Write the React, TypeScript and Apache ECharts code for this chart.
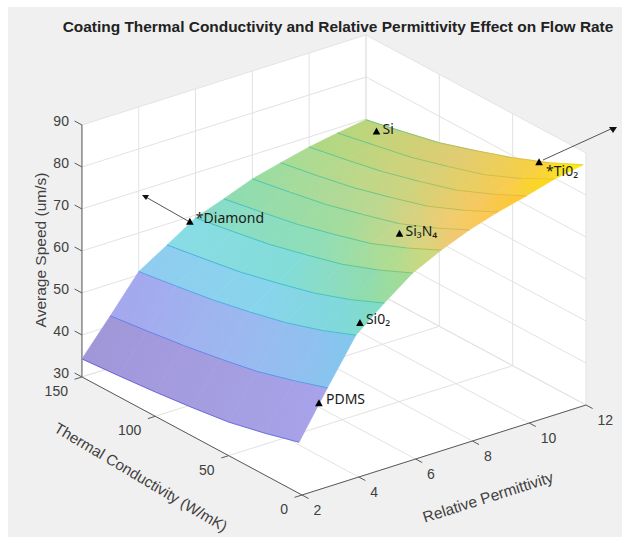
import React, { useEffect, useRef } from "react";
import * as echarts from "echarts";

const TITLE = "Coating Thermal Conductivity and Relative Permittivity Effect on Flow Rate";
const permittivityValues = [2, 3, 4, 5, 6, 7, 8, 9, 10, 11, 12];
const conductivityValues = [150, 125, 100, 75, 50, 25, 2];
// speed[permittivity index][conductivity index]
const speedEps2 = [34.3, 35.0, 35.8, 36.8, 38.0, 40.0, 42.2];
const speedEps3 = [42.4, 43.5, 44.7, 46.2, 47.9, 50.4, 53.0];
const speedEps4 = [50.8, 52.1, 53.5, 55.3, 57.4, 60.2, 63.4];
const speedEps5 = [55.0, 56.4, 57.9, 60.0, 62.3, 65.4, 68.9];
const speedEps6 = [59.3, 60.8, 62.4, 64.6, 67.0, 70.3, 73.9];
const speedEps7 = [61.7, 63.3, 65.0, 67.3, 69.8, 73.4, 77.2];
const speedEps8 = [64.3, 65.9, 67.6, 69.9, 72.4, 76.0, 79.9];
const speedEps9 = [66.0, 67.6, 69.4, 71.8, 74.4, 78.1, 82.0];
const speedEps10 = [67.6, 69.3, 71.1, 73.5, 76.1, 79.8, 83.7];
const speedEps11 = [68.8, 70.6, 72.4, 74.9, 77.6, 81.4, 85.6];
const speedEps12 = [69.8, 71.7, 73.7, 76.5, 79.5, 83.0, 86.8];
const speedGrid = [speedEps2, speedEps3, speedEps4, speedEps5, speedEps6, speedEps7, speedEps8, speedEps9, speedEps10, speedEps11, speedEps12];

const permittivityTicks = [2, 4, 6, 8, 10, 12];
const conductivityTicks = [0, 50, 100, 150];
const speedTicks = [30, 40, 50, 60, 70, 80, 90];

const materialNames = ["*Diamond", "Si", "Si₃N₄", "Si0₂", "PDMS", "*Ti0₂"];
const materialPermittivity = [5.8, 11.7, 7.5, 4.04, 2.7, 12];
const materialConductivity = [150, 137, 40, 0, 2, 32];
const materialSpeed = [58.8, 70.1, 72.9, 66.6, 50, 81.8];

// ---- layout and style ----
const W = 622, H = 537;
const ORIGIN = [302, 495];
const EPS_V = [28.4, -9];
const T_V = [-1.467, -0.787];
const Z_DY = -4.2;
const EPS0 = 2, Z0 = 30;
const AXIS_FONT = "14px 'Liberation Sans', Arial, sans-serif";
const NOTE_FONT = "14px 'Noto Sans', sans-serif";
const INK = "#404040";
const GRID = "#e2e2e2";
// strip colours read at conductivity 150, 75, 25 and 2, one row per permittivity strip
const COLOR_KEY_T = [150, 75, 25, 2];
const STRIP_COLORS: string[][] = [
  ["#a097d8", "#a49de0", "#a6a0e6", "#a8a2ea"],
  ["#a5a8ee", "#9cb8f0", "#90c0ef", "#84c6ee"],
  ["#90cdf0", "#88d4ec", "#80d8dc", "#80dcc8"],
  ["#88dce4", "#84dcd8", "#90dcb0", "#a0dc98"],
  ["#88dcc8", "#90deb8", "#b0dc90", "#cdd880"],
  ["#90dcb0", "#a4dc9c", "#d8d480", "#f2c870"],
  ["#9cdca0", "#bcd890", "#f0cc70", "#fbc955"],
  ["#a8dc94", "#ccd480", "#f6c860", "#fcc838"],
  ["#b0d884", "#d8d078", "#f8cc50", "#fad820"],
  ["#b8d67c", "#e2cc72", "#f8d040", "#f8e818"],
];
const LINE_STOPS: [number, string][] = [
  [34, "#6a5ed8"], [46, "#5f7ee4"], [54, "#4aa4e4"], [62, "#38c0c8"], [70, "#58c490"],
  [76, "#b4bc50"], [82, "#e8b840"], [87, "#f4dc20"],
];
const ARROWS = [
  { from: [188, 221], to: [144, 196], head: [[142, 195], [149, 195], [146, 200]] },
  { from: [543, 160], to: [613, 128], head: [[609, 127], [617, 127], [613, 133]] },
];
const NOTE_OFFSET = [[6, -4], [6, -3], [6, -3], [6, -4], [7, -5], [7, 8]];

const project = (e: number, t: number, z: number): [number, number] => [
  ORIGIN[0] + EPS_V[0] * (e - EPS0) + T_V[0] * t,
  ORIGIN[1] + EPS_V[1] * (e - EPS0) + T_V[1] * t + Z_DY * (z - Z0),
];

const hex = (c: string) => [1, 3, 5].map((i) => parseInt(c.slice(i, i + 2), 16));
const mix = (c1: string, c2: string, f: number) => {
  const a = hex(c1), b = hex(c2);
  return `rgb(${a.map((v, k) => Math.round(v + (b[k] - v) * f)).join(",")})`;
};
const colorAt = (stops: [number, string][], z: number) => {
  if (z <= stops[0][0]) return stops[0][1];
  for (let i = 1; i < stops.length; i++) {
    if (z <= stops[i][0]) return mix(stops[i - 1][1], stops[i][1], (z - stops[i - 1][0]) / (stops[i][0] - stops[i - 1][0]));
  }
  return stops[stops.length - 1][1];
};
const stripColor = (strip: number, t: number) => {
  for (let k = 1; k < COLOR_KEY_T.length; k++) {
    if (t >= COLOR_KEY_T[k]) {
      return mix(STRIP_COLORS[strip][k - 1], STRIP_COLORS[strip][k], (COLOR_KEY_T[k - 1] - t) / (COLOR_KEY_T[k - 1] - COLOR_KEY_T[k]));
    }
  }
  return STRIP_COLORS[strip][COLOR_KEY_T.length - 1];
};

const eMin = permittivityTicks[0], eMax = permittivityTicks[permittivityTicks.length - 1];
const tMin = conductivityTicks[0], tMax = conductivityTicks[conductivityTicks.length - 1];
const zMin = speedTicks[0], zMax = speedTicks[speedTicks.length - 1];

type P3 = [number, number, number];
const grid3d: [P3, P3][] = [];
permittivityTicks.forEach((e) => {
  grid3d.push([[e, tMax, zMin], [e, tMax, zMax]]);
  grid3d.push([[e, tMin, zMin], [e, tMax, zMin]]);
});
conductivityTicks.forEach((t) => {
  grid3d.push([[eMax, t, zMin], [eMax, t, zMax]]);
  grid3d.push([[eMin, t, zMin], [eMax, t, zMin]]);
});
speedTicks.forEach((z) => {
  grid3d.push([[eMin, tMax, z], [eMax, tMax, z]]);
  grid3d.push([[eMax, tMin, z], [eMax, tMax, z]]);
});

const axes3d: [P3, P3][] = [
  [[eMin, tMax, zMin], [eMin, tMax, zMax]],
  [[eMin, tMin, zMin], [eMin, tMax, zMin]],
  [[eMin, tMin, zMin], [eMax, tMin, zMin]],
];
speedTicks.forEach((z) => axes3d.push([[eMin, tMax, z], [eMin, tMax + 5, z]]));
conductivityTicks.forEach((t) => axes3d.push([[eMin, t, zMin], [eMin - 0.26, t, zMin]]));
permittivityTicks.forEach((e) => axes3d.push([[e, tMin, zMin], [e, tMin - 4.5, zMin]]));

const planes: P3[][] = [
  [[eMin, tMax, zMin], [eMax, tMax, zMin], [eMax, tMax, zMax], [eMin, tMax, zMax]],
  [[eMax, tMin, zMin], [eMax, tMax, zMin], [eMax, tMax, zMax], [eMax, tMin, zMax]],
  [[eMin, tMin, zMin], [eMax, tMin, zMin], [eMax, tMax, zMin], [eMin, tMax, zMin]],
];

const cells: [number, number][] = [];
permittivityValues.slice(0, -1).forEach((_, i) => conductivityValues.slice(0, -1).forEach((__, j) => cells.push([i, j])));
const meshSegs: [number, number][] = [];
permittivityValues.forEach((_, i) => conductivityValues.slice(0, -1).forEach((__, j) => meshSegs.push([i, j])));

const idx = (arr: unknown[]) => arr.map((_, i) => [i, i]);

const tickTexts = [
  ...speedTicks.map((z) => ({ p: [eMin, tMax, z] as P3, s: String(z), dx: -13, dy: -4, a: "right" })),
  ...conductivityTicks.map((t) => ({ p: [eMin, t, zMin] as P3, s: String(t), dx: -14, dy: 14, a: "right" })),
  ...permittivityTicks.map((e) => ({ p: [e, tMin, zMin] as P3, s: String(e), dx: 11.5, dy: 15, a: "left" })),
];

const axisTitles = [
  { s: "Average Speed (um/s)", x: 40, y: 250, r: Math.PI / 2, f: 15.5 },
  { s: "Thermal Conductivity (W/mK)", x: 141, y: 477, r: (-30.7 * Math.PI) / 180, f: 15.2 },
  { s: "Relative Permittivity", x: 488, y: 497, r: (17.6 * Math.PI) / 180, f: 15.5 },
];

export default function App() {
  const ref = useRef<HTMLDivElement>(null);
  useEffect(() => {
    const chart = echarts.init(ref.current!, undefined, { renderer: "svg", width: W, height: H });
    const custom = (name: string, data: number[][], renderItem: any, z: number) => ({
      type: "custom", name, data, renderItem, z, clip: false, silent: true, encode: { x: 0, y: 1 },
    });
    const at = (api: any, p: P3) => api.coord(project(p[0], p[1], p[2]));

    const segRender = (list: [P3, P3][], color: string, width: number) => (params: any, api: any) => {
      const [a, b] = list[params.dataIndex];
      const p = at(api, a), q = at(api, b);
      return { type: "line", shape: { x1: p[0], y1: p[1], x2: q[0], y2: q[1] }, style: { stroke: color, lineWidth: width, fill: "none" } };
    };

    const surfaceRender = (params: any, api: any) => {
      const [i, j] = cells[params.dataIndex];
      const pts = [
        at(api, [permittivityValues[i], conductivityValues[j], speedGrid[i][j]]),
        at(api, [permittivityValues[i + 1], conductivityValues[j], speedGrid[i + 1][j]]),
        at(api, [permittivityValues[i + 1], conductivityValues[j + 1], speedGrid[i + 1][j + 1]]),
        at(api, [permittivityValues[i], conductivityValues[j + 1], speedGrid[i][j + 1]]),
      ];
      const sx = (pts[0][0] + pts[1][0]) / 2, sy = (pts[0][1] + pts[1][1]) / 2;
      const ex = (pts[2][0] + pts[3][0]) / 2, ey = (pts[2][1] + pts[3][1]) / 2;
      const grad = new echarts.graphic.LinearGradient(sx, sy, ex, ey, [
        { offset: 0, color: stripColor(i, conductivityValues[j]) },
        { offset: 1, color: stripColor(i, conductivityValues[j + 1]) },
      ], true);
      return { type: "polygon", shape: { points: pts }, style: { fill: grad, stroke: grad, lineWidth: 0.7 } };
    };

    const meshRender = (params: any, api: any) => {
      const [i, j] = meshSegs[params.dataIndex];
      const p = at(api, [permittivityValues[i], conductivityValues[j], speedGrid[i][j]]);
      const q = at(api, [permittivityValues[i], conductivityValues[j + 1], speedGrid[i][j + 1]]);
      return {
        type: "line", shape: { x1: p[0], y1: p[1], x2: q[0], y2: q[1] },
        style: { stroke: colorAt(LINE_STOPS, (speedGrid[i][j] + speedGrid[i][j + 1]) / 2), lineWidth: 1, opacity: 0.9 },
      };
    };

    chart.setOption({
      animation: false,
      backgroundColor: "#ffffff",
      title: {
        text: TITLE, left: 333, top: 14, textAlign: "center",
        textStyle: { fontFamily: "'Liberation Sans', Arial, sans-serif", fontSize: 15.45, fontWeight: "bold", color: "#222222" },
      },
      graphic: [{ type: "rect", z: -10, silent: true, shape: { x: 8, y: 7, width: W - 8, height: H - 7 }, style: { fill: "#f0f0f0" } }],
      grid: { left: 0, top: 0, width: W, height: H },
      xAxis: { type: "value", min: 0, max: W, show: false },
      yAxis: { type: "value", min: 0, max: H, inverse: true, show: false },
      tooltip: { show: false },
      series: [
        custom("walls", idx(planes), (params: any, api: any) => ({
          type: "polygon",
          shape: { points: planes[params.dataIndex].map((p) => at(api, p)) },
          style: { fill: "#ffffff", stroke: "#ffffff", lineWidth: 0.5 },
        }), 1),
        custom("grid", idx(grid3d), segRender(grid3d, GRID, 1), 2),
        custom("axes", idx(axes3d), segRender(axes3d, "#5a5a5a", 1), 3),
        custom("surface", idx(cells), surfaceRender, 4),
        custom("mesh", idx(meshSegs), meshRender, 5),
        custom("ticks", idx(tickTexts), (params: any, api: any) => {
          const t = tickTexts[params.dataIndex];
          const p = at(api, t.p);
          return { type: "text", x: p[0] + t.dx, y: p[1] + t.dy, style: { text: t.s, font: AXIS_FONT, fill: INK, align: t.a, verticalAlign: "middle" } };
        }, 6),
        custom("axisTitles", idx(axisTitles), (params: any, api: any) => {
          const t = axisTitles[params.dataIndex];
          const p = api.coord([t.x, t.y]);
          return { type: "text", x: p[0], y: p[1], rotation: t.r, style: { text: t.s, font: `${t.f}px 'Liberation Sans', Arial, sans-serif`, fill: INK, align: "center", verticalAlign: "middle" } };
        }, 6),
        custom("arrows", idx(ARROWS), (params: any, api: any) => {
          const a = ARROWS[params.dataIndex];
          const p = api.coord(a.from), q = api.coord(a.to);
          return {
            type: "group",
            children: [
              { type: "line", shape: { x1: p[0], y1: p[1], x2: q[0], y2: q[1] }, style: { stroke: "#555555", lineWidth: 1 } },
              { type: "polygon", shape: { points: a.head.map((h) => api.coord(h)) }, style: { fill: "#111111" } },
            ],
          };
        }, 7),
        custom("materials", idx(materialNames), (params: any, api: any) => {
          const i = params.dataIndex;
          const p = at(api, [materialPermittivity[i], materialConductivity[i], materialSpeed[i]]);
          return {
            type: "group",
            children: [
              { type: "polygon", shape: { points: [[p[0], p[1] - 4], [p[0] + 3.8, p[1] + 3], [p[0] - 3.8, p[1] + 3]] }, style: { fill: "#000000" } },
              { type: "text", x: p[0] + NOTE_OFFSET[i][0], y: p[1] + NOTE_OFFSET[i][1], style: { text: materialNames[i], font: NOTE_FONT, fill: "#1a1a1a", align: "left", verticalAlign: "middle" } },
            ],
          };
        }, 8),
      ],
    });
    return () => chart.dispose();
  }, []);
  return (
    <div style={{ position: "fixed", left: 0, top: 0, width: W, height: H }}>
      <div ref={ref} style={{ width: W, height: H }} />
    </div>
  );
}
